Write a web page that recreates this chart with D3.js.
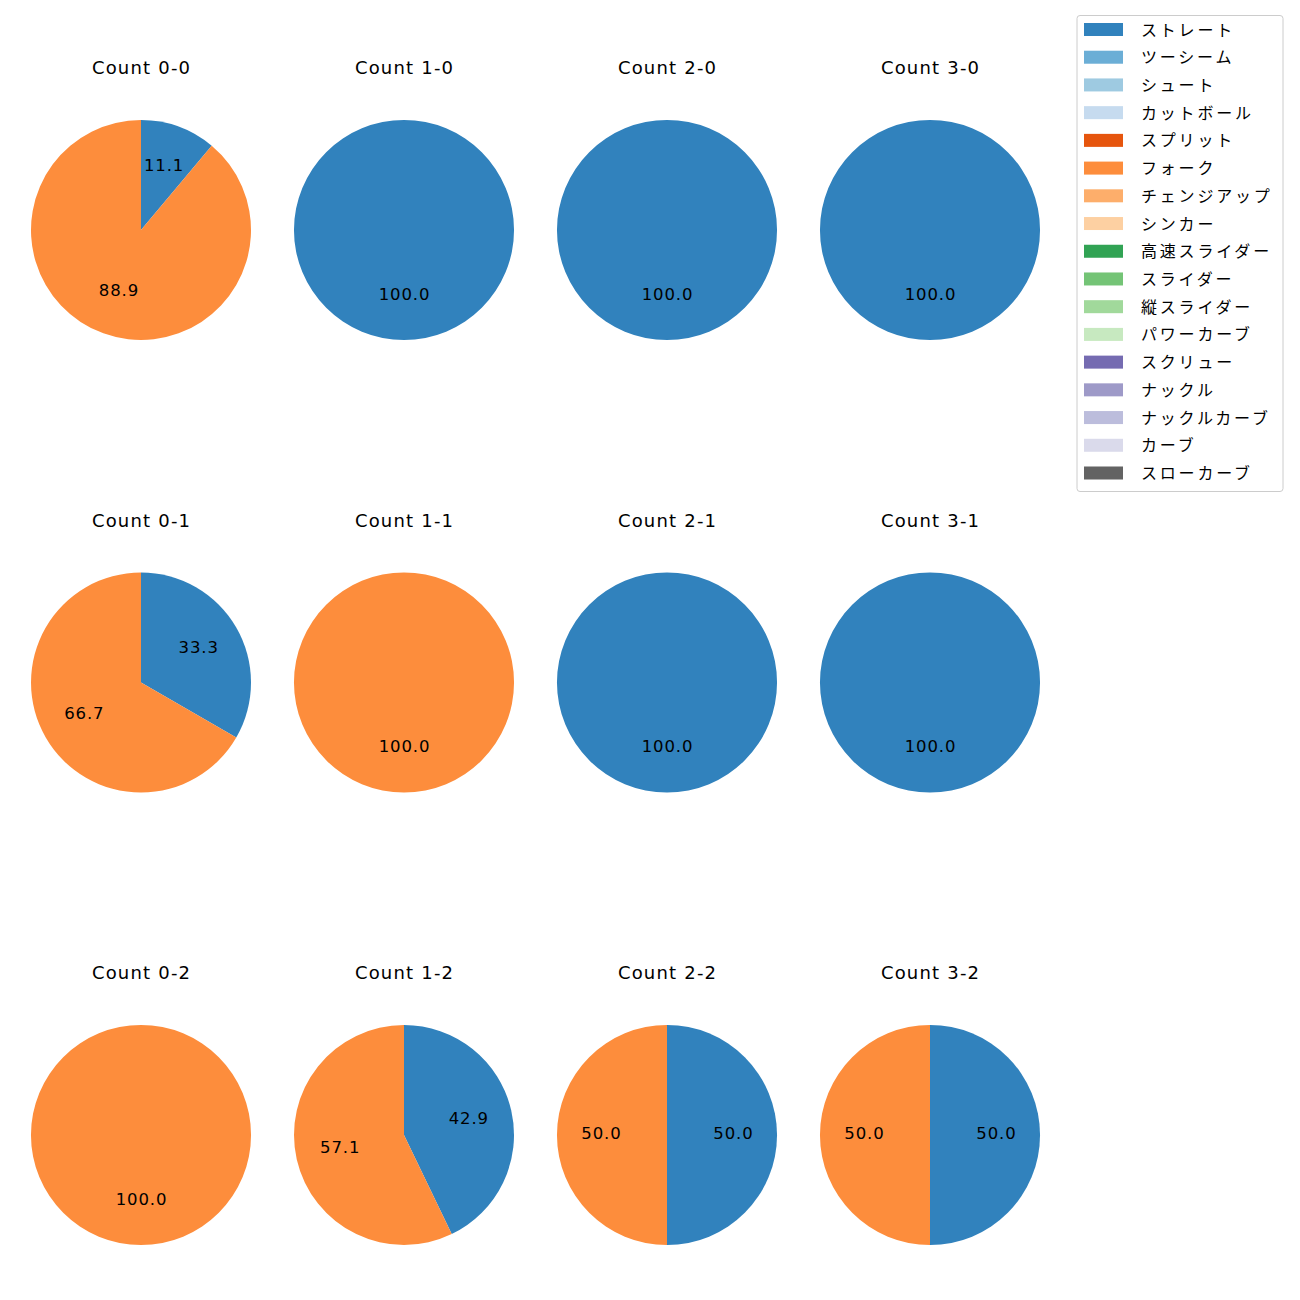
<!DOCTYPE html>
<html><head><meta charset="utf-8">
<script src="https://cdn.jsdelivr.net/npm/d3@7"></script>
<style>body{margin:0;background:#fff}</style>
</head><body>
<svg id="c" width="1300" height="1300"></svg>
<script>
const pitchTypes = ["ストレート","ツーシーム","シュート","カットボール","スプリット","フォーク","チェンジアップ","シンカー","高速スライダー","スライダー","縦スライダー","パワーカーブ","スクリュー","ナックル","ナックルカーブ","カーブ","スローカーブ"];
const pitchColors = ["#3182bd","#6baed6","#9ecae1","#c6dbef","#e6550d","#fd8d3c","#fdae6b","#fdd0a2","#31a354","#74c476","#a1d99b","#c7e9c0","#756bb1","#9e9ac8","#bcbddc","#dadaeb","#636363"];
const countTitles = ["Count 0-0","Count 1-0","Count 2-0","Count 3-0","Count 0-1","Count 1-1","Count 2-1","Count 3-1","Count 0-2","Count 1-2","Count 2-2","Count 3-2"];
// pitch counts: [ストレート, フォーク]
const straightCounts = [1,1,1,1, 1,0,1,1, 0,3,1,1];
const forkCounts     = [8,0,0,0, 2,1,0,0, 1,4,1,1];

const latin = "'DejaVu Sans', sans-serif";
const cjk = "'Noto Sans CJK JP', 'Noto Sans', sans-serif";
const svg = d3.select("#c");
const colX = d3.scalePoint().domain([0,1,2,3]).range([141,930]);
const rowY = d3.scalePoint().domain([0,1,2]).range([230,1135]);
const R = 110;
const color = d3.scaleOrdinal().domain(pitchTypes).range(pitchColors);
const pie = d3.pie().sort(null).value(d=>d.v);
const arc = d3.arc().innerRadius(0).outerRadius(R);
const labelArc = d3.arc().innerRadius(R*0.6).outerRadius(R*0.6);

countTitles.forEach((t,i)=>{
  const cx = colX(i%4), cy = rowY(Math.floor(i/4));
  const data = [{k:"ストレート",v:straightCounts[i]},{k:"フォーク",v:forkCounts[i]}].filter(d=>d.v>0);
  const total = d3.sum(data,d=>d.v);
  const g = svg.append("g").attr("transform",`translate(${cx},${cy})`);
  const arcs = pie(data);
  g.selectAll("path").data(arcs).join("path").attr("d",arc).attr("fill",d=>color(d.data.k));
  g.selectAll("text.l").data(arcs).join("text").attr("class","l")
    .attr("transform",d=>`translate(${labelArc.centroid(d)})`)
    .attr("text-anchor","middle").attr("dy",3.5).attr("dx",0.5)
    .attr("font-family",latin).attr("font-size",16.5).attr("letter-spacing",0.9).attr("fill","#000")
    .text(d=>(d.data.v/total*100).toFixed(1));
  svg.append("text").attr("x",cx+0.6).attr("y",cy-156).attr("text-anchor","middle")
    .attr("font-family",latin).attr("font-size",18).attr("letter-spacing",1.2)
    .attr("fill","#000").text(t);
});

// legend
const lg = svg.append("g");
lg.append("rect").attr("x",1077).attr("y",15.5).attr("width",206).attr("height",476)
  .attr("rx",3).attr("fill","#fff").attr("stroke","#cccccc");
const ly = d3.scaleLinear().domain([0,16]).range([29.5,473]);
pitchTypes.forEach((p,i)=>{
  lg.append("rect").attr("x",1084).attr("y",ly(i)-6.5).attr("width",39).attr("height",13).attr("fill",color(p));
  lg.append("text").attr("x",1141).attr("y",ly(i)-1).attr("dominant-baseline","central")
    .attr("font-family",cjk).attr("font-size",16).attr("letter-spacing",2.8).attr("fill","#000").text(p);
});
</script>
</body></html>
